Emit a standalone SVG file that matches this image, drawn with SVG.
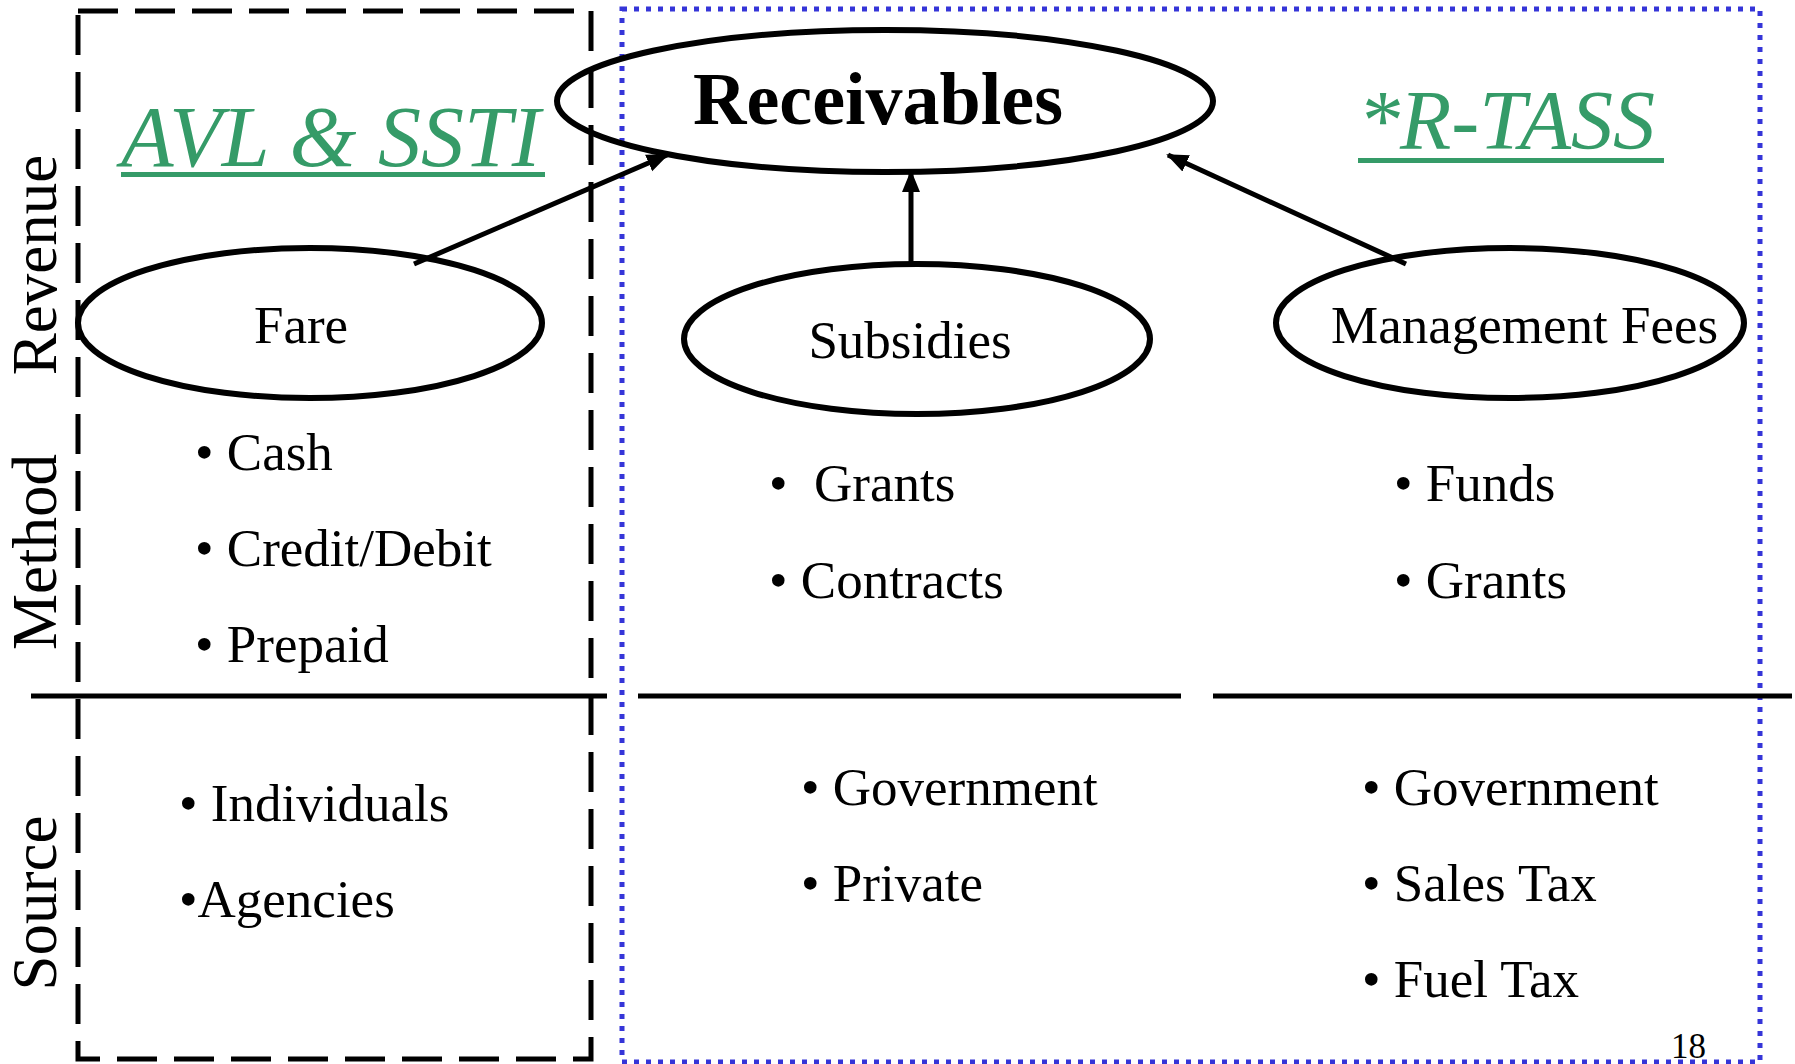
<svg xmlns="http://www.w3.org/2000/svg" width="1795" height="1064" viewBox="0 0 1795 1064">
<style>
  .t { font-family: "Liberation Serif", "Times New Roman", serif; fill: #000; }
  .b { font-size: 53px; }
  .lbl { font-size: 53px; }
  .axis { font-size: 63px; }
  .title { font-family: "Liberation Serif", "Times New Roman", serif; font-style: italic; fill: #359b68; }
  .node { fill: none; stroke: #000; stroke-width: 6; }
  .conn { stroke: #000; stroke-width: 5; fill: none; }
</style>
<defs>
  <marker id="ah" markerUnits="userSpaceOnUse" markerWidth="24" markerHeight="20" refX="20" refY="10" orient="auto">
    <path d="M0,1 L22,10 L0,19 Z" fill="#000"/>
  </marker>
</defs>
<rect width="1795" height="1064" fill="#fff"/>

<g id="frames">
  <rect x="78" y="11" width="513" height="1048" fill="none" stroke="#000" stroke-width="5" stroke-dasharray="40 17"/>
  <rect x="622" y="9" width="1138" height="1053" fill="none" stroke="#3535d8" stroke-width="5" stroke-dasharray="5 7"/>
  <line x1="31" y1="696" x2="607" y2="696" stroke="#000" stroke-width="5"/>
  <line x1="638" y1="696" x2="1181" y2="696" stroke="#000" stroke-width="5"/>
  <line x1="1213" y1="696" x2="1792" y2="696" stroke="#000" stroke-width="5"/>
</g>

<g id="axis-labels">
  <text class="t axis" transform="translate(56,265) rotate(-90)" text-anchor="middle">Revenue</text>
  <text class="t axis" transform="translate(56,552) rotate(-90)" text-anchor="middle">Method</text>
  <text class="t axis" transform="translate(56,903) rotate(-90)" text-anchor="middle">Source</text>
</g>

<g id="titles">
  <text class="title" x="121" y="166" font-size="86">AVL &amp; SSTI</text>
  <rect x="121" y="172" width="424" height="5" fill="#359b68"/>
  <text class="title" x="1358" y="149" font-size="84">*R-TASS</text>
  <rect x="1358" y="158" width="306" height="5" fill="#359b68"/>
</g>

<g id="connectors">
  <line class="conn" x1="414" y1="264" x2="667" y2="155" marker-end="url(#ah)"/>
  <line class="conn" x1="911" y1="264" x2="911" y2="172" marker-end="url(#ah)"/>
  <line class="conn" x1="1406" y1="264" x2="1168" y2="155" marker-end="url(#ah)"/>
</g>

<g id="receivables">
  <ellipse class="node" cx="885" cy="101" rx="328" ry="71"/>
  <text class="t" x="878" y="124" font-size="74" font-weight="bold" text-anchor="middle">Receivables</text>
</g>

<g id="fare">
  <ellipse class="node" cx="310" cy="323" rx="232" ry="75"/>
  <text class="t lbl" x="301" y="343" text-anchor="middle">Fare</text>
</g>

<g id="subsidies">
  <ellipse class="node" cx="917" cy="339" rx="233" ry="75"/>
  <text class="t lbl" x="910" y="358" text-anchor="middle">Subsidies</text>
</g>

<g id="management-fees">
  <ellipse class="node" cx="1510" cy="323" rx="234" ry="75"/>
  <text class="t lbl" x="1331" y="343">Management Fees</text>
</g>

<g id="fare-lists">
  <text class="t b" x="195" y="470">• Cash</text>
  <text class="t b" x="195" y="566">• Credit/Debit</text>
  <text class="t b" x="195" y="662">• Prepaid</text>
  <text class="t b" x="179" y="821">• Individuals</text>
  <text class="t b" x="179" y="917">•Agencies</text>
</g>

<g id="subsidies-lists">
  <text class="t b" x="769" y="501">•&#160;&#160;Grants</text>
  <text class="t b" x="769" y="598">• Contracts</text>
  <text class="t b" x="801" y="805">• Government</text>
  <text class="t b" x="801" y="901">• Private</text>
</g>

<g id="fees-lists">
  <text class="t b" x="1394" y="501">• Funds</text>
  <text class="t b" x="1394" y="598">• Grants</text>
  <text class="t b" x="1362" y="805">• Government</text>
  <text class="t b" x="1362" y="901">• Sales Tax</text>
  <text class="t b" x="1362" y="997">• Fuel Tax</text>
</g>

<text class="t" x="1671" y="1058" font-size="35">18</text>
</svg>
